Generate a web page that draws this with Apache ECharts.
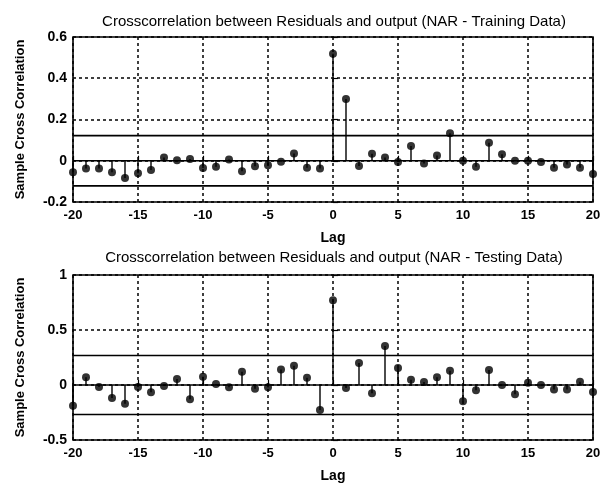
<!DOCTYPE html>
<html>
<head>
<meta charset="utf-8">
<style>
  html, body { margin: 0; padding: 0; background: #fff; }
  #chart { width: 611px; height: 484px; }
</style>
<script src="https://cdn.jsdelivr.net/npm/echarts@6/dist/echarts.min.js"></script>
</head>
<body>
<div id="chart"></div>
<script>
// Lags shown on both panels
const lags = [-20,-19,-18,-17,-16,-15,-14,-13,-12,-11,-10,-9,-8,-7,-6,-5,-4,-3,-2,-1,
  0,1,2,3,4,5,6,7,8,9,10,11,12,13,14,15,16,17,18,19,20];

// Sample cross correlation, training data
const trainXcorr = [-0.056,-0.037,-0.037,-0.056,-0.084,-0.061,-0.045,0.016,0.002,0.008,
  -0.035,-0.029,0.006,-0.051,-0.027,-0.022,-0.005,0.035,-0.034,-0.037,
  0.519,0.299,-0.026,0.034,0.016,-0.006,0.072,-0.013,0.026,0.133,
  0.0,-0.029,0.087,0.031,0.0,0.0,-0.006,-0.034,-0.018,-0.034,-0.064];
const trainBound = 0.122;

// Sample cross correlation, testing data
const testXcorr = [-0.188,0.07,-0.018,-0.118,-0.17,-0.018,-0.067,-0.009,0.055,-0.13,
  0.076,0.009,-0.021,0.121,-0.033,-0.021,0.142,0.176,0.067,-0.227,
  0.77,-0.027,0.2,-0.076,0.355,0.155,0.048,0.027,0.07,0.13,
  -0.148,-0.048,0.136,0.0,-0.085,0.02,0.0,-0.04,-0.04,0.03,-0.064];
const testBound = 0.268;

const titles = [
  'Crosscorrelation between Residuals and output (NAR - Training Data)',
  'Crosscorrelation between Residuals and output (NAR - Testing Data)'
];
const xTicks = [-20,-15,-10,-5,0,5,10,15,20];

const FONT = 'Liberation Sans, Arial, sans-serif';
const chart = echarts.init(document.getElementById('chart'));

function pairs(vals) { return lags.map((l, i) => [l, vals[i]]); }

function stemSeries(idx, vals) {
  return {
    type: 'custom',
    xAxisIndex: idx, yAxisIndex: idx,
    data: pairs(vals),
    renderItem: function (params, api) {
      const p0 = api.coord([api.value(0), 0]);
      const p1 = api.coord([api.value(0), api.value(1)]);
      return {
        type: 'line',
        shape: { x1: p0[0], y1: p0[1], x2: p1[0], y2: p1[1] },
        style: { stroke: '#000', lineWidth: 1.4 }
      };
    },
    z: 3, silent: true
  };
}

function dotSeries(idx, vals) {
  return {
    type: 'scatter',
    xAxisIndex: idx, yAxisIndex: idx,
    data: pairs(vals),
    symbol: 'circle', symbolSize: 8,
    itemStyle: { color: '#000' },
    z: 4, silent: true
  };
}

function hLine(idx, y) {
  return {
    type: 'line',
    xAxisIndex: idx, yAxisIndex: idx,
    data: [[-20, y], [20, y]],
    symbol: 'none',
    lineStyle: { color: '#000', width: 1.6 },
    z: 2, silent: true
  };
}

function xAxisCfg(idx) {
  return {
    type: 'value', gridIndex: idx, min: -20, max: 20, interval: 5,
    name: 'Lag', nameLocation: 'middle', nameGap: 29,
    nameTextStyle: { fontFamily: FONT, fontWeight: 'bold', fontSize: 14, color: '#000' },
    axisLine: { show: false },
    axisTick: { show: true, inside: true, length: 5, lineStyle: { color: '#000', width: 1.2 } },
    axisLabel: { fontFamily: FONT, fontWeight: 'bold', fontSize: 13, color: '#000', margin: 7,
      customValues: xTicks },
    splitLine: { show: true, lineStyle: { color: '#000', type: [3, 3], width: 1.5 } }
  };
}

function yAxisCfg(idx, min, max, interval) {
  return {
    type: 'value', gridIndex: idx, min: min, max: max, interval: interval,
    name: 'Sample Cross Correlation', nameLocation: 'middle', nameGap: 46,
    nameTextStyle: { fontFamily: FONT, fontWeight: 'bold', fontSize: 13, color: '#000' },
    axisLine: { show: false },
    axisTick: { show: true, inside: true, length: 5, lineStyle: { color: '#000', width: 1.2 } },
    axisLabel: { fontFamily: FONT, fontWeight: 'bold', fontSize: 14, color: '#000', margin: 6,
      formatter: v => String(Math.round(v * 10) / 10) },
    splitLine: { show: true, lineStyle: { color: '#000', type: [3, 3], width: 1.5 } }
  };
}

chart.setOption({
  animation: false,
  backgroundColor: '#fff',
  title: [
    { text: titles[0], left: 329, top: 9, textAlign: 'center',
      textStyle: { fontFamily: FONT, fontWeight: 'normal', fontSize: 15, color: '#000' } },
    { text: titles[1], left: 329, top: 245, textAlign: 'center',
      textStyle: { fontFamily: FONT, fontWeight: 'normal', fontSize: 15, color: '#000' } }
  ],
  grid: [
    { left: 73, top: 37, width: 520, height: 165, show: true, borderColor: '#000', borderWidth: 1.6, backgroundColor: 'transparent' },
    { left: 73, top: 275, width: 520, height: 165, show: true, borderColor: '#000', borderWidth: 1.6, backgroundColor: 'transparent' }
  ],
  xAxis: [xAxisCfg(0), xAxisCfg(1)],
  yAxis: [yAxisCfg(0, -0.2, 0.6, 0.2), yAxisCfg(1, -0.5, 1, 0.5)],
  series: [
    hLine(0, 0), hLine(0, trainBound), hLine(0, -trainBound),
    stemSeries(0, trainXcorr), dotSeries(0, trainXcorr),
    hLine(1, 0), hLine(1, testBound), hLine(1, -testBound),
    stemSeries(1, testXcorr), dotSeries(1, testXcorr)
  ]
});
</script>
</body>
</html>
